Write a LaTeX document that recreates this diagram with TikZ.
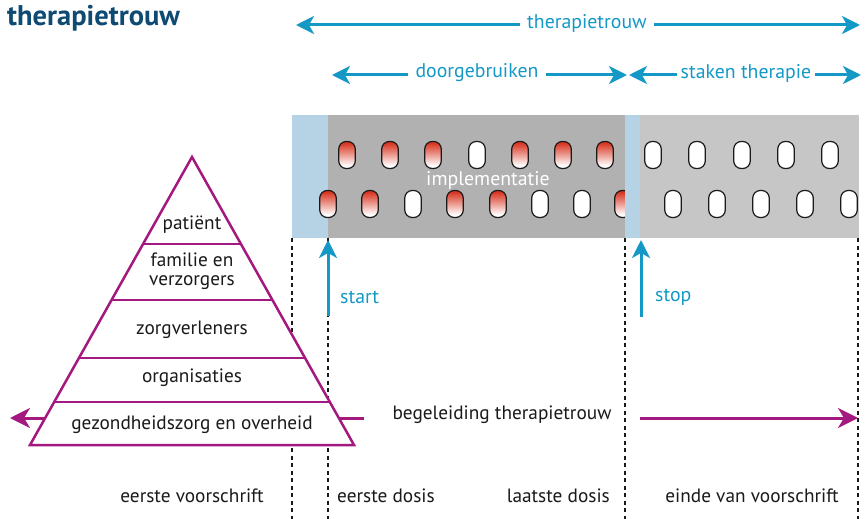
\documentclass[tikz,border=0pt]{standalone}
\usepackage{fontspec}
\setmainfont{PT Sans}
\usetikzlibrary{arrows.meta,calc}
\definecolor{cyanA}{HTML}{1499C6}
\definecolor{navy}{HTML}{0E4A72}
\definecolor{purp}{HTML}{A3197F}
\definecolor{lblue}{HTML}{B6D3E6}
\definecolor{dgrey}{HTML}{B1B1B1}
\definecolor{lgrey}{HTML}{C6C6C6}
\definecolor{pillred}{HTML}{D8321E}
\definecolor{ink}{HTML}{1A1A1A}
\pgfdeclareverticalshading{pillshade}{100bp}{color(0bp)=(white); color(30bp)=(white); color(73bp)=(pillred); color(100bp)=(pillred)}
\tikzset{
  txt/.style={font=\fontsize{19.3}{22}\selectfont, text=ink, inner sep=0pt},
  cylbl/.style={font=\fontsize{19.8}{22}\selectfont, text=cyanA, inner sep=0pt},
  cyarr/.style={draw=cyanA, line width=3pt, -{Stealth[length=18pt,width=18pt,inset=5pt]}},
  puarr/.style={draw=purp, line width=3pt, -{Stealth[length=20pt,width=20pt,inset=6pt]}},
  puline/.style={draw=purp, line width=3pt},
  dashln/.style={draw=ink, line width=1.1pt, dash pattern=on 4pt off 3.5pt},
  pill/.style={draw=ink, line width=1.2pt, rounded corners=7.5pt, minimum width=16.5pt, minimum height=27pt, inner sep=0pt},
  redpill/.style={pill, shading=pillshade},
  whitepill/.style={pill, fill=white},
  pyr/.style={draw=purp, line width=2.5pt},
}
\begin{document}
\begin{tikzpicture}[x=1pt,y=-1pt]
\useasboundingbox[fill=white] (0,0) rectangle (865,519);

% title
\node[anchor=west, font=\bfseries\fontsize{28.5}{31}\selectfont, text=navy, inner sep=0pt] (title) at (7,18) {therapietrouw};

% top arrows
\node[cylbl, inner xsep=7pt] (tt) at (587,23) {therapietrouw};
\coordinate (ttL) at (296,25);
\coordinate (ttR) at (860,25);
\draw[cyarr] (tt.west |- ttL) -- (ttL);
\draw[cyarr] (tt.east |- ttR) -- (ttR);

\node[cylbl, inner xsep=7pt] (dg) at (477,73) {doorgebruiken};
\coordinate (dgL) at (332,75);
\coordinate (dgR) at (627,75);
\draw[cyarr] (dg.west |- dgL) -- (dgL);
\draw[cyarr] (dg.east |- dgR) -- (dgR);

\node[cylbl, inner xsep=4pt] (st) at (746,73) {staken therapie};
\coordinate (stL) at (629,75);
\coordinate (stR) at (861,75);
\draw[cyarr] (st.west |- stL) -- (stL);
\draw[cyarr] (st.east |- stR) -- (stR);

% bands
\fill[lblue] (292,115) rectangle (328,238);
\fill[dgrey] (328,115) rectangle (625,238);
\fill[lgrey] (640,115) rectangle (859,238);

% pills top row
\foreach \x/\s in {347/redpill,390/redpill,433/redpill,477/whitepill,520/redpill,563/redpill,605/redpill,653/whitepill,697/whitepill,742/whitepill,786/whitepill,830/whitepill}
  \node[\s] at (\x,155) {};
% pills bottom row
\foreach \x/\s in {328/redpill,370/redpill,413/whitepill,455/redpill,498/redpill,540/whitepill,582/whitepill,623/redpill,673/whitepill,717/whitepill,761/whitepill,805/whitepill,849/whitepill}
  \node[\s] at (\x,204) {};
\fill[lblue] (625,115) rectangle (640,238);

\node[font=\fontsize{19.8}{22}\selectfont, text=white, inner sep=0pt] (impl) at (488,180) {implementatie};

% dashed verticals
\foreach \x in {292,328,625,858}
  \draw[dashln] (\x,238) -- (\x,519);

% start / stop
\coordinate (s0) at (328,316);
\coordinate (s1) at (328,240);
\draw[cyarr] (s0) -- (s1);
\node[cylbl, anchor=west] (startl) at (340,297) {start};
\coordinate (p0) at (641,317);
\coordinate (p1) at (641,240);
\draw[cyarr] (p0) -- (p1);
\node[cylbl, anchor=west] (stopl) at (655,297) {stop};

% purple arrow
\coordinate (pyrL) at (45,418);
\coordinate (endL) at (10,418);
\coordinate (pyrR) at (339,418);
\coordinate (endR) at (858,418);
\node[txt, minimum width=276pt] (beg) at (502,415) {begeleiding therapietrouw};
\draw[puarr] (pyrL) -- (endL);
\draw[puline] (pyrR) -- (beg.west |- pyrR);
\draw[puarr] (beg.east |- endR) -- (endR);

% pyramid
\coordinate (A) at (192,157);
\coordinate (BL) at (30,445);
\coordinate (BR) at (354,445);
\filldraw[pyr, fill=white, line join=miter] (A) -- (BL) -- (BR) -- cycle;
\foreach \t in {0.302,0.4965,0.698,0.851}
  \draw[pyr] ($(A)!\t!(BL)$) -- ($(A)!\t!(BR)$);
\node[txt] (pat) at (192,225) {patiënt};
\node[txt, align=center] (fam) at (192,271) {familie en\\[-3pt]verzorgers};
\node[txt] (zorg) at (192,330) {zorgverleners};
\node[txt] (org) at (192,378) {organisaties};
\node[txt] (gez) at (192,425) {gezondheidszorg en overheid};

% bottom labels
\node[txt] (ev) at (192,496) {eerste voorschrift};
\node[txt, anchor=west] (ed) at (337,496) {eerste dosis};
\node[txt, anchor=east] (ld) at (610,496) {laatste dosis};
\node[txt] (evv) at (752,496) {einde van voorschrift};
\end{tikzpicture}
\end{document}
